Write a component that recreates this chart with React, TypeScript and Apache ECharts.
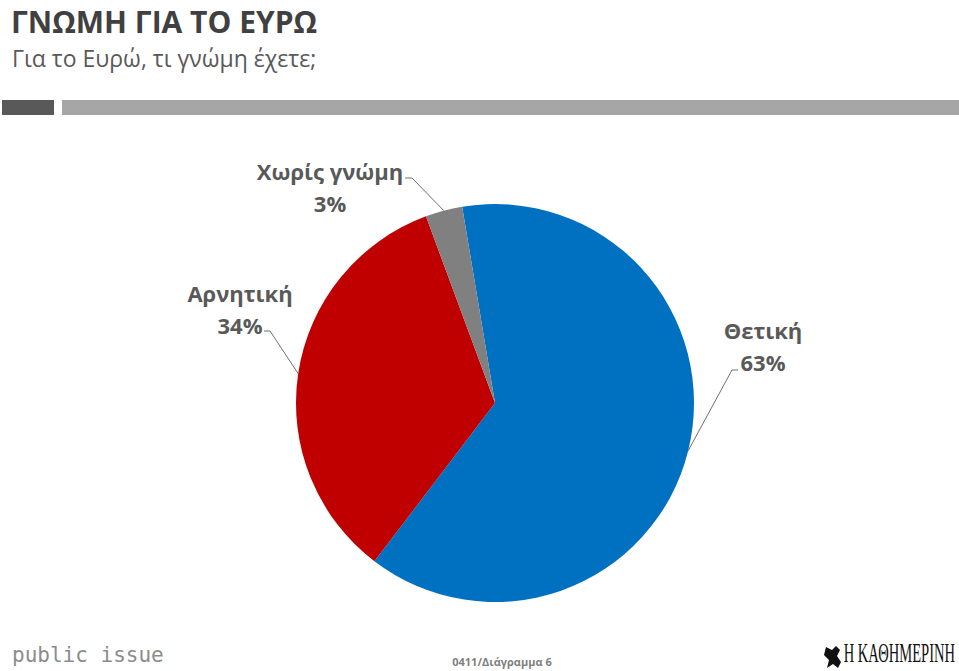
import React, { useEffect, useRef } from "react";
import * as echarts from "echarts";

const title = "ΓΝΩΜΗ ΓΙΑ ΤΟ ΕΥΡΩ";
const subtitle = "Για το Ευρώ, τι γνώμη έχετε;";
const categories = ["Θετική", "Αρνητική", "Χωρίς γνώμη"];
const values = [63, 34, 3];
const sliceColors = ["#0070C0", "#C00000", "#808080"];
const footerCode = "0411/Διάγραμμα 6";
const sourceName = "public issue";
const paperName = "Η ΚΑΘΗΜΕΡΙΝΗ";

// label placement (layout only)
const labelPlacement: Record<number, { x: number; y: number; bend: number[]; end: number[] }> = {
  0: { x: 763, y: 346, bend: [732, 370], end: [738, 370] },
  1: { x: 240, y: 309, bend: [270, 331], end: [264, 331] },
  2: { x: 330, y: 187, bend: [412, 178], end: [405, 178] },
};

export default function App() {
  const ref = useRef<HTMLDivElement>(null);
  useEffect(() => {
    if (!ref.current) return;
    const chart = echarts.init(ref.current, null, { renderer: "svg" });
    const font = "'Open Sans', 'Noto Sans', sans-serif";
    chart.setOption({
      animation: false,
      backgroundColor: "#ffffff",
      graphic: [
        {
          type: "text",
          x: 11,
          y: 21,
          style: {
            text: title,
            font: `bold 30px ${font}`,
            fill: "#404040",
            verticalAlign: "middle",
          },
        },
        {
          type: "text",
          x: 12,
          y: 57.5,
          style: {
            text: subtitle,
            font: `23px ${font}`,
            fill: "#595959",
            verticalAlign: "middle",
          },
        },
        { type: "rect", shape: { x: 2, y: 100, width: 52, height: 15 }, style: { fill: "#595959" } },
        { type: "rect", shape: { x: 62, y: 100, width: 897, height: 15 }, style: { fill: "#a6a6a6" } },
        {
          type: "text",
          x: 12,
          y: 655,
          style: {
            text: sourceName,
            font: `21px 'DejaVu Sans Mono', monospace`,
            fill: "#8c8c8c",
            verticalAlign: "middle",
          },
        },
        {
          type: "text",
          x: 502,
          y: 661,
          style: {
            text: footerCode,
            font: `bold 11px ${font}`,
            fill: "#7f7f7f",
            align: "center",
            verticalAlign: "middle",
          },
        },
        {
          type: "polygon",
          shape: {
            points: [
              [826, 647], [832, 650], [836, 646], [840, 650], [837, 656],
              [841, 662], [838, 668], [833, 664], [827, 668], [829, 660], [824, 655],
            ],
          },
          style: { fill: "#111" },
        },
        {
          type: "text",
          x: 955,
          y: 653,
          scaleX: 0.52,
          style: {
            text: paperName,
            font: `28px 'Liberation Serif', serif`,
            fill: "#111",
            align: "right",
            verticalAlign: "middle",
          },
        },
      ],
      series: [
        {
          type: "pie",
          center: [495, 403],
          radius: 199,
          startAngle: 99.5,
          clockwise: true,
          data: categories.map((c, i) => ({
            name: c,
            value: values[i],
            itemStyle: { color: sliceColors[i] },
          })),
          label: {
            show: true,
            position: "outside",
            formatter: "{b}\n{c}%",
            fontFamily: font,
            fontSize: 22,
            fontWeight: "bold",
            color: "#595959",
            lineHeight: 32,
            align: "center",
          },
          labelLine: { show: true, lineStyle: { color: "#707070", width: 1 } },
          labelLayout: (params: any) => {
            const p = labelPlacement[params.dataIndex];
            const start = params.labelLinePoints ? params.labelLinePoints[0] : p.bend;
            return {
              x: p.x,
              y: p.y,
              align: "center",
              verticalAlign: "middle",
              labelLinePoints: [start, p.bend, p.end],
            };
          },
        },
      ],
    });
    return () => chart.dispose();
  }, []);
  return (
    <div
      ref={ref}
      style={{ position: "fixed", left: 0, top: 0, width: 959, height: 671 }}
    />
  );
}
